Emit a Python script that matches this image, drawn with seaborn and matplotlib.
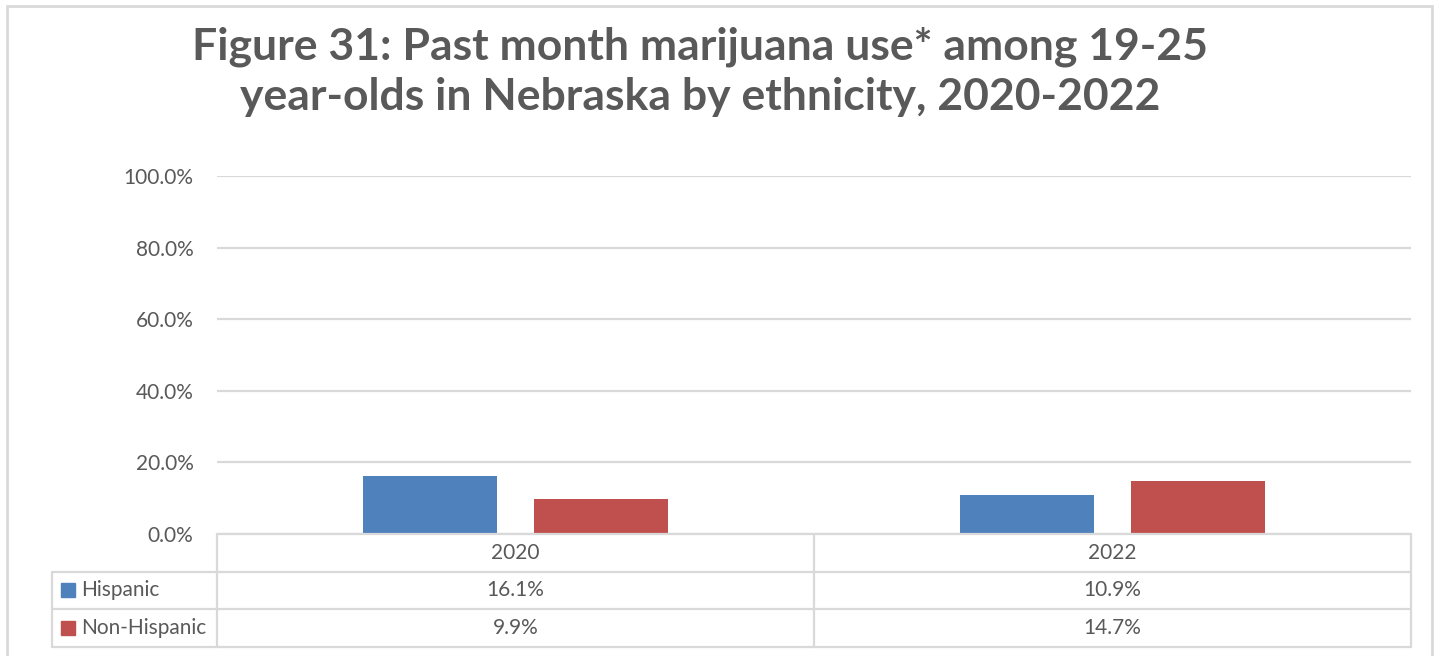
import matplotlib
matplotlib.use("Agg")
import matplotlib.pyplot as plt
import matplotlib.transforms as mtransforms
from matplotlib.patches import Rectangle
import seaborn as sns
import pandas as pd

# 데이터
years = ["2020", "2022"]
groups = ["Hispanic", "Non-Hispanic"]
hispanic = [16.1, 10.9]
non_hispanic = [9.9, 14.7]
colors = ["#4F81BD", "#C0504D"]

df = pd.DataFrame({
    "year": years * 2,
    "group": [groups[0]] * 2 + [groups[1]] * 2,
    "value": hispanic + non_hispanic,
})

sns.set_style("white")
plt.rcParams["font.family"] = ["Lato", "DejaVu Sans"]
W, H = 1447, 656
fig = plt.figure(figsize=(W / 100, H / 100), dpi=100)
ax = fig.add_axes([217 / W, 1 - 534 / H, (1411 - 217) / W, (534 - 176) / H])

grid_c = "#D9D9D9"
text_c = "#595959"
fs = 15

sns.barplot(data=df, x="year", y="value", hue="group", palette=colors,
            width=0.573, gap=0.216, ax=ax, legend=False, saturation=1,
            edgecolor="none", zorder=3)

ax.set_ylim(0, 100)
ax.set_xlim(-0.5, 1.5)
ax.set_yticks(range(0, 101, 20))
ax.set_yticklabels([f"{t:.1f}%" for t in range(0, 101, 20)], fontsize=fs, color=text_c)
ax.tick_params(axis="y", length=0, pad=17)
ax.set_xticks([])
ax.set_xlabel("")
ax.set_ylabel("")
ax.grid(axis="y", color=grid_c, lw=1.6, zorder=0)
for s in ax.spines.values():
    s.set_visible(False)

# 제목
fig.text(700 / W, 1 - 72 / H,
         "Figure 31: Past month marijuana use* among 19-25\nyear-olds in Nebraska by ethnicity, 2020-2022",
         ha="center", va="center", fontsize=32, fontweight="bold", color=text_c,
         linespacing=1.3)

# 데이터 표
tr = mtransforms.blended_transform_factory(ax.transData, fig.transFigure)
def fy(p):
    return 1 - p / H

rows_y = [534, 572, 609, 647]
lw = 1.6
fig.add_artist(plt.Line2D([-0.5, 1.5], [fy(534)] * 2, transform=tr, color=grid_c, lw=lw))
for yy in rows_y[1:]:
    fig.add_artist(plt.Line2D([52 / W, 1411 / W], [fy(yy)] * 2, color=grid_c, lw=lw))
for xx in [-0.5, 0.5, 1.5]:
    fig.add_artist(plt.Line2D([xx, xx], [fy(534), fy(647)], transform=tr, color=grid_c, lw=lw))
fig.add_artist(plt.Line2D([52 / W] * 2, [fy(572), fy(647)], color=grid_c, lw=lw))

for i, yr in enumerate(years):
    fig.text(i, fy(553), yr, transform=tr, ha="center", va="center", fontsize=fs, color=text_c)
    fig.text(i, fy(590), f"{hispanic[i]:.1f}%", transform=tr, ha="center", va="center",
             fontsize=fs, color=text_c)
    fig.text(i, fy(628), f"{non_hispanic[i]:.1f}%", transform=tr, ha="center", va="center",
             fontsize=fs, color=text_c)

for j, (g, c) in enumerate(zip(groups, colors)):
    yc = [590, 628][j]
    fig.add_artist(Rectangle((61 / W, fy(yc + 7)), 14 / W, 14 / H, color=c, transform=fig.transFigure))
    fig.text(81 / W, fy(yc), g, ha="left", va="center", fontsize=fs, color=text_c)

# 외곽선
fig.add_artist(Rectangle((7 / W, fy(700)), (1432 - 7) / W, (700 - 6) / H, fill=False,
                         edgecolor=grid_c, lw=2, transform=fig.transFigure))

fig.savefig("out.png", dpi=100)
